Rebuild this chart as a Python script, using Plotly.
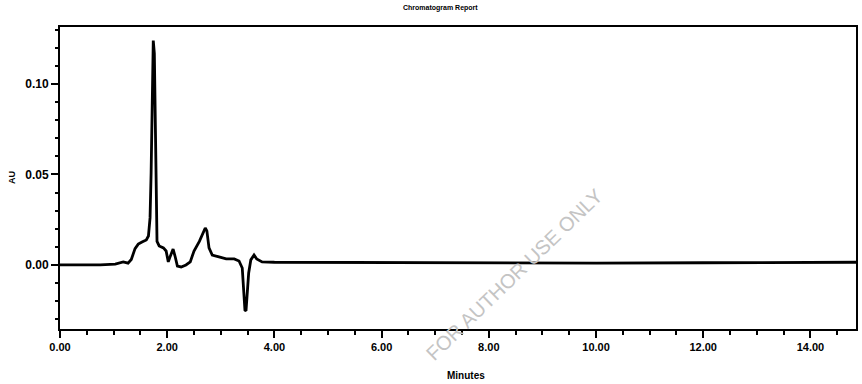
import plotly.graph_objects as go

# Chromatogram trace: retention time (minutes) and detector response (AU)
time_min = [0.00, 0.75, 1.03, 1.18, 1.27, 1.33, 1.40, 1.46, 1.53, 1.61, 1.65,
            1.68, 1.70, 1.72, 1.74, 1.76, 1.78, 1.80, 1.81, 1.85, 1.93, 1.98,
            2.02, 2.06, 2.11, 2.15, 2.19, 2.26, 2.35, 2.43, 2.50, 2.60, 2.67,
            2.71, 2.74, 2.78, 2.84, 2.95, 3.10, 3.25, 3.34, 3.40, 3.43, 3.45,
            3.47, 3.49, 3.52, 3.56, 3.62, 3.67, 3.77, 4.00, 6.00, 8.00, 10.00,
            12.00, 14.00, 14.85]
response_au = [0.0000, 0.0000, 0.0005, 0.0017, 0.0010, 0.0030, 0.0090, 0.0115,
               0.0127, 0.0138, 0.0160, 0.0260, 0.0510, 0.0870, 0.1240, 0.1170,
               0.0760, 0.0310, 0.0130, 0.0105, 0.0094, 0.0077, 0.0017, 0.0050,
               0.0088, 0.0044, -0.0006, -0.0011, 0.0000, 0.0017, 0.0077, 0.0130,
               0.0177, 0.0204, 0.0188, 0.0094, 0.0055, 0.0044, 0.0033, 0.0033,
               0.0022, -0.0017, -0.0127, -0.0249, -0.0254, -0.0180, -0.0044,
               0.0028, 0.0055, 0.0033, 0.0017, 0.0015, 0.0012, 0.0013, 0.0010,
               0.0012, 0.0015, 0.0015]

x_range = [0.0, 14.85]
y_range = [-0.0354, 0.1315]

fig = go.Figure()
fig.add_trace(go.Scatter(
    x=time_min, y=response_au, mode="lines",
    line=dict(color="black", width=2.8), hoverinfo="skip", showlegend=False,
))

bold = dict(family="Liberation Sans, Arial, sans-serif", color="black", weight="bold")

fig.update_layout(
    width=862, height=384,
    margin=dict(l=60, r=4, t=27, b=55),
    paper_bgcolor="white", plot_bgcolor="white",
    xaxis=dict(
        range=x_range, dtick=2, tick0=0, tickformat=".2f",
        showgrid=False, zeroline=False,
        showline=True, linecolor="black", linewidth=2, mirror=True,
        ticks="outside", ticklen=7, tickwidth=2, tickcolor="black",
        tickfont=dict(size=11, **bold),
        minor=dict(dtick=0.5, ticks="outside", ticklen=4, tickwidth=1.5,
                   tickcolor="black", showgrid=False),
    ),
    yaxis=dict(
        range=y_range, dtick=0.05, tick0=0, tickformat=".2f",
        showgrid=False, zeroline=False,
        showline=True, linecolor="black", linewidth=2, mirror=True,
        ticks="outside", ticklen=7, tickwidth=2, tickcolor="black",
        tickfont=dict(size=12, **bold),
        minor=dict(dtick=0.01, ticks="outside", ticklen=3, tickwidth=1.5,
                   tickcolor="black", showgrid=False),
    ),
    annotations=[
        dict(text="Chromatogram Report", x=0.478, y=1.0, xref="paper", yref="paper",
             yshift=19, showarrow=False, font=dict(size=7, **bold),
             xanchor="center", yanchor="middle"),
        dict(text="Minutes", x=0.51, y=0, xref="paper", yref="paper",
             yshift=-46, showarrow=False, font=dict(size=10, **bold),
             xanchor="center", yanchor="middle"),
        dict(text="AU", x=0, y=0.5, xref="paper", yref="paper",
             xshift=-48, showarrow=False, textangle=-90,
             font=dict(size=9, **bold), xanchor="center", yanchor="middle"),
        dict(text="FOR AUTHOR USE ONLY", x=0.57, y=0.18, xref="paper", yref="paper",
             showarrow=False, textangle=-44,
             font=dict(size=20, family="Liberation Sans, Arial, sans-serif",
                       color="#c4c4c4"),
             xanchor="center", yanchor="middle"),
    ],
)

fig.write_html("out.html")
